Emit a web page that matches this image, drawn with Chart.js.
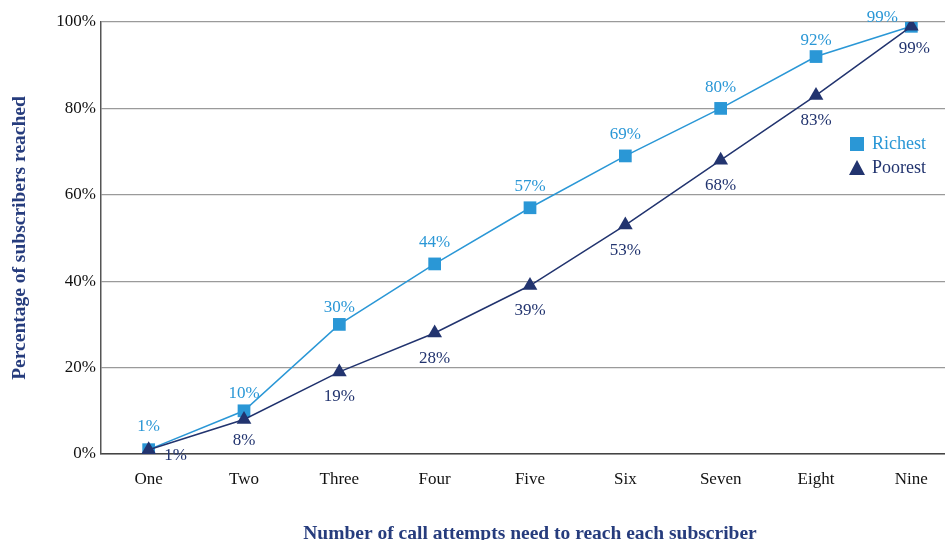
<!DOCTYPE html>
<html>
<head>
<meta charset="utf-8">
<script src="https://cdn.jsdelivr.net/npm/chart.js@4"></script>
<style>
  html, body { margin: 0; padding: 0; background: #fff; overflow: hidden; }
  #wrap { width: 968px; height: 540px; }
</style>
</head>
<body>
<div id="wrap"><canvas id="c" width="968" height="540"></canvas></div>
<script>
const categories = ['One', 'Two', 'Three', 'Four', 'Five', 'Six', 'Seven', 'Eight', 'Nine'];
const richest = [1, 10, 30, 44, 57, 69, 80, 92, 99];
const poorest = [1, 8, 19, 28, 39, 53, 68, 83, 99];
const yTicks = [0, 20, 40, 60, 80, 100];

const RICH = '#2a97d6';
const POOR = '#22346f';
const TITLE = '#263c7d';
const SERIF = '"Liberation Serif", "Times New Roman", serif';

// label placement: richest above, poorest below, with a few nudged to avoid overlap
const labelOffset = {
  0: { dy: -21, special: { 0: { dx: 0, dy: -23 }, 1: { dx: 0, dy: -17 }, 2: { dx: 0, dy: -17 },
                           7: { dx: 0, dy: -16 }, 8: { dx: -29, dy: -9 } } },
  1: { dy: 25, special: { 0: { dx: 27, dy: 6 }, 1: { dx: 0, dy: 21 }, 8: { dx: 3, dy: 22 } } }
};

const valueLabels = {
  id: 'valueLabels',
  afterDatasetsDraw(chart) {
    const ctx = chart.ctx;
    ctx.save();
    ctx.font = '17px ' + SERIF;
    ctx.textAlign = 'center';
    ctx.textBaseline = 'middle';
    chart.data.datasets.forEach((ds, di) => {
      const meta = chart.getDatasetMeta(di);
      const cfg = labelOffset[di];
      ctx.fillStyle = ds.borderColor;
      meta.data.forEach((pt, i) => {
        const o = cfg.special[i] || { dx: 0, dy: cfg.dy };
        ctx.fillText(ds.data[i] + '%', pt.x + o.dx, pt.y + o.dy);
      });
    });
    ctx.restore();
  }
};

const innerLegend = {
  id: 'innerLegend',
  afterDraw(chart) {
    const ctx = chart.ctx;
    ctx.save();
    ctx.font = '18px ' + SERIF;
    ctx.textBaseline = 'middle';
    ctx.textAlign = 'left';
    const x = 857, y0 = 144, gap = 24;
    chart.data.datasets.forEach((ds, di) => {
      const y = y0 + di * gap;
      ctx.fillStyle = ds.borderColor;
      if (ds.pointStyle === 'rect') {
        ctx.fillRect(x - 7, y - 7, 14, 14);
      } else {
        ctx.beginPath();
        ctx.moveTo(x, y - 8);
        ctx.lineTo(x + 8, y + 7);
        ctx.lineTo(x - 8, y + 7);
        ctx.closePath();
        ctx.fill();
      }
      ctx.fillText(ds.label, x + 15, y);
    });
    ctx.restore();
  }
};

new Chart(document.getElementById('c'), {
  type: 'line',
  data: {
    labels: categories,
    datasets: [
      {
        label: 'Richest',
        data: richest,
        order: 1,
        borderColor: RICH,
        backgroundColor: RICH,
        borderWidth: 1.5,
        pointStyle: 'rect',
        pointRadius: 9,
        pointBorderWidth: 0,
        tension: 0
      },
      {
        label: 'Poorest',
        data: poorest,
        order: 0,
        borderColor: POOR,
        backgroundColor: POOR,
        borderWidth: 1.5,
        pointStyle: 'triangle',
        pointRadius: 8.5,
        pointBorderWidth: 0,
        tension: 0
      }
    ]
  },
  options: {
    responsive: false,
    animation: false,
    layout: { padding: { top: 22, right: 2, left: 0, bottom: -6 } },
    plugins: {
      legend: { display: false },
      tooltip: { enabled: false }
    },
    scales: {
      x: {
        offset: true,
        grid: { display: false, drawTicks: false },
        border: { color: '#444', width: 1.5 },
        ticks: {
          color: '#111',
          font: { family: SERIF, size: 17 },
          padding: 15
        },
        title: {
          display: true,
          text: 'Number of call attempts need to reach each subscriber',
          color: TITLE,
          font: { family: SERIF, size: 19.5, weight: 'bold' },
          padding: { top: 36, bottom: 0 }
        },
        afterFit(scale) { scale.height = 92; }
      },
      y: {
        min: 0,
        max: 100,
        afterBuildTicks(scale) { scale.ticks = yTicks.map(v => ({ value: v })); },
        grid: { color: '#9a9a9a', lineWidth: 1.2, drawTicks: false },
        border: { color: '#555', width: 1.5 },
        ticks: {
          color: '#111',
          font: { family: SERIF, size: 17 },
          padding: 5,
          callback: v => v + '%'
        },
        title: {
          display: true,
          text: 'Percentage of subscribers reached',
          color: TITLE,
          font: { family: SERIF, size: 19.5, weight: 'bold' },
          padding: { top: 8, bottom: 0 }
        },
        afterFit(scale) { scale.width = 101; }
      }
    }
  },
  plugins: [valueLabels, innerLegend]
});
</script>
</body>
</html>
